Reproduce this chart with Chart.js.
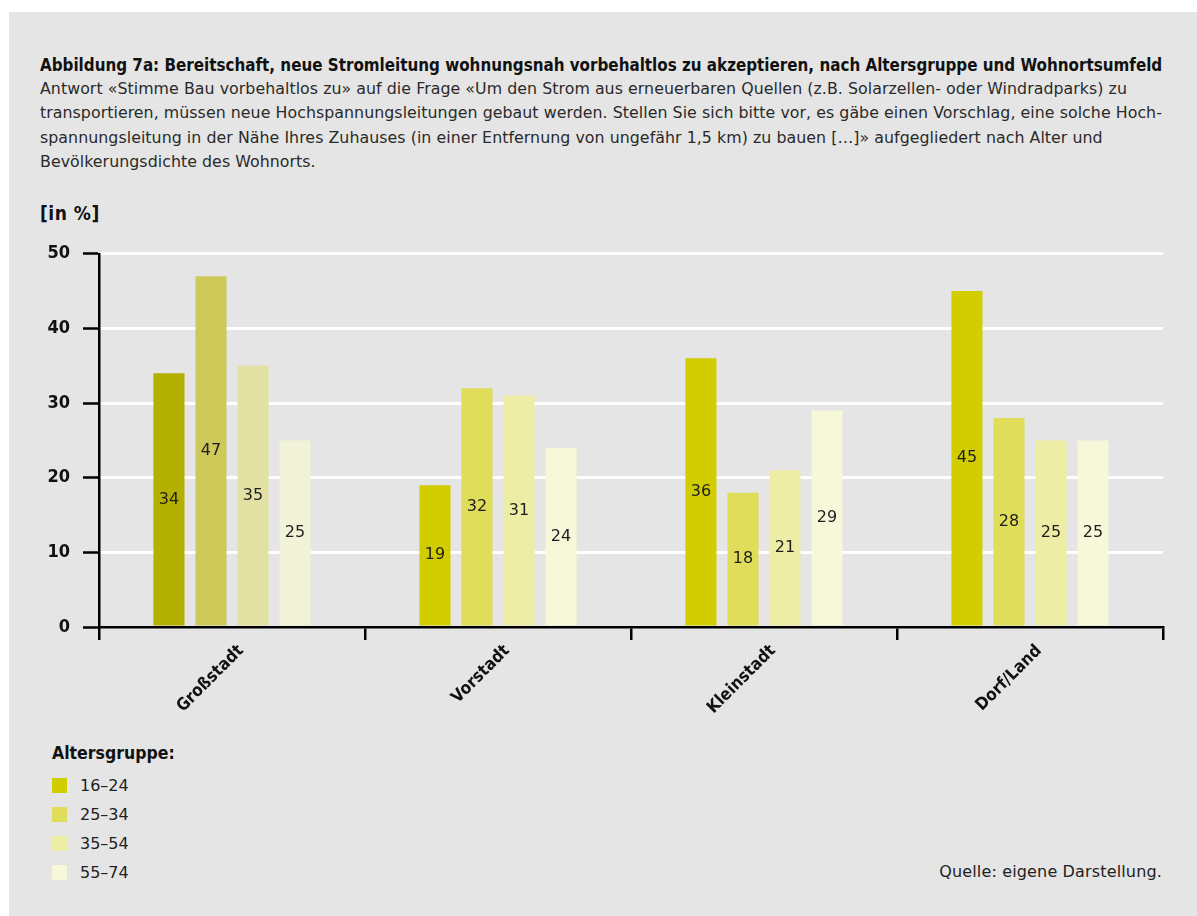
<!DOCTYPE html>
<html lang="de">
<head>
<meta charset="utf-8">
<title>Abbildung 7a</title>
<script src="https://cdn.jsdelivr.net/npm/chart.js@4.4.1/dist/chart.umd.min.js"></script>
<style>
    html, body { margin: 0; padding: 0; background: #fff; }
    body { width: 1197px; height: 916px; position: relative; overflow: hidden; }
    .panel { position: absolute; left: 9px; top: 12px; right: 0; bottom: 0; background: #e5e5e5; }
    .title {
        position: absolute; left: 40px; top: 55px;
        font: bold 16.85px "DejaVu Sans Condensed", sans-serif;
        color: #111; white-space: nowrap;
    }
    .subtitle {
        position: absolute; left: 40px; top: 77px;
        font: 15.8px "DejaVu Sans", sans-serif; line-height: 24.4px; letter-spacing: 0.05px;
        color: #2a2a2a; white-space: pre;
    }
    .unit {
        position: absolute; left: 40px; top: 202px;
        font: bold 19px "DejaVu Sans Condensed", sans-serif; letter-spacing: 0.5px; color: #111;
    }
    #chartWrap { position: absolute; left: 9px; top: 230px; width: 1188px; height: 500px; }
    .legend { position: absolute; left: 52px; top: 743px; font-family: "DejaVu Sans", sans-serif; }
    .legend h4 { margin: 0 0 8px 0; font: bold 17.5px "DejaVu Sans Condensed", sans-serif; color: #111; }
    .legend .item { display: flex; align-items: center; height: 30px; margin-top: -1px; }
    .legend .swatch { width: 15px; height: 15px; margin-right: 13px; }
    .legend .lbl { font-size: 16px; color: #222; }
    .source {
        position: absolute; right: 35px; top: 862px;
        font: 16px "DejaVu Sans", sans-serif; letter-spacing: 0.15px; color: #222;
    }
</style>
</head>
<body>
<div class="panel"></div>
<div class="title">Abbildung 7a: Bereitschaft, neue Stromleitung wohnungsnah vorbehaltlos zu akzeptieren, nach Altersgruppe und Wohnortsumfeld</div>
<div class="subtitle">Antwort «Stimme Bau vorbehaltlos zu» auf die Frage «Um den Strom aus erneuerbaren Quellen (z.B. Solarzellen- oder Windradparks) zu
transportieren, müssen neue Hochspannungsleitungen gebaut werden. Stellen Sie sich bitte vor, es gäbe einen Vorschlag, eine solche Hoch-
spannungsleitung in der Nähe Ihres Zuhauses (in einer Entfernung von ungefähr 1,5 km) zu bauen […]» aufgegliedert nach Alter und
Bevölkerungsdichte des Wohnorts.</div>
<div class="unit">[in %]</div>
<div id="chartWrap"><canvas id="ageChart"></canvas></div>
<div class="legend" id="legend"></div>
<div class="source">Quelle: eigene Darstellung.</div>

<script>
// Wohnortsumfeld (x categories)
const places = ['Großstadt', 'Vorstadt', 'Kleinstadt', 'Dorf/Land'];

// Altersgruppen (series)
const ageGroups = ['16–24', '25–34', '35–54', '55–74'];

// share in % per age group, ordered like places
const age16to24 = [34, 19, 36, 45];
const age25to34 = [47, 32, 18, 28];
const age35to54 = [35, 31, 21, 25];
const age55to74 = [25, 24, 29, 25];

const yTicks = [0, 10, 20, 30, 40, 50];

// Großstadt is drawn in a darker shade, the other places use the legend colours
const legendColors = ['#d1cd00', '#dfdd5a', '#eeeda5', '#f7f7da'];
const cityColors   = ['#b3b000', '#cdca5a', '#e2e1a3', '#f2f2d8'];

const seriesValues = [age16to24, age25to34, age35to54, age55to74];

function buildDatasets() {
    return ageGroups.map((label, i) => ({
        label: label,
        data: seriesValues[i],
        backgroundColor: places.map((p, j) => j === 0 ? cityColors[i] : legendColors[i]),
        borderWidth: 0,
        categoryPercentage: 0.632,
        barPercentage: 0.74
    }));
}

// value labels centred inside each bar
const barValueLabels = {
    id: 'barValueLabels',
    afterDatasetsDraw(chart) {
        const ctx = chart.ctx;
        ctx.save();
        ctx.font = '16px "DejaVu Sans", sans-serif';
        ctx.fillStyle = '#1e1e1e';
        ctx.textAlign = 'center';
        ctx.textBaseline = 'middle';
        chart.data.datasets.forEach((ds, i) => {
            chart.getDatasetMeta(i).data.forEach((bar, j) => {
                const mid = (bar.y + bar.base) / 2;
                ctx.fillText(String(ds.data[j]), bar.x, mid);
            });
        });
        ctx.restore();
    }
};

function renderLegend() {
    const el = document.getElementById('legend');
    el.innerHTML = `
        <h4>Altersgruppe:</h4>
        ${ageGroups.map((g, i) => `
            <div class="item">
                <span class="swatch" style="background:${legendColors[i]}"></span>
                <span class="lbl">${g}</span>
            </div>
        `).join('')}
    `;
}

const ctx = document.getElementById('ageChart').getContext('2d');
new Chart(ctx, {
    type: 'bar',
    data: { labels: places, datasets: buildDatasets() },
    options: {
        responsive: true,
        maintainAspectRatio: false,
        animation: false,
        layout: { padding: { top: 22, right: 34, left: 0, bottom: 0 } },
        plugins: {
            legend: { display: false },
            tooltip: { enabled: false }
        },
        scales: {
            y: {
                min: 0,
                max: 50,
                afterFit(scale) { scale.width = 90; },
                afterBuildTicks(scale) { scale.ticks = yTicks.map(v => ({ value: v })); },
                ticks: {
                    padding: 13,
                    color: '#111',
                    font: { size: 18, weight: 'bold', family: '"DejaVu Sans Condensed", sans-serif' }
                },
                grid: {
                    color: c => c.tick && c.tick.value === 0 ? 'rgba(0,0,0,0)' : '#ffffff',
                    lineWidth: 3,
                    tickColor: '#000',
                    tickWidth: 2.5,
                    tickLength: 16
                },
                border: { color: '#000', width: 2.5 }
            },
            x: {
                afterFit(scale) { scale.height = 103; },
                ticks: {
                    minRotation: 45,
                    maxRotation: 45,
                    padding: 1,
                    labelOffset: 9,
                    color: '#111',
                    font: { size: 17, weight: 'bold', family: '"DejaVu Sans Condensed", sans-serif' }
                },
                grid: {
                    offset: true,
                    drawOnChartArea: false,
                    color: '#000',
                    lineWidth: 2.5,
                    tickLength: 13
                },
                border: { color: '#000', width: 2.5, z: 1 }
            }
        }
    },
    plugins: [barValueLabels]
});

renderLegend();
</script>
</body>
</html>
